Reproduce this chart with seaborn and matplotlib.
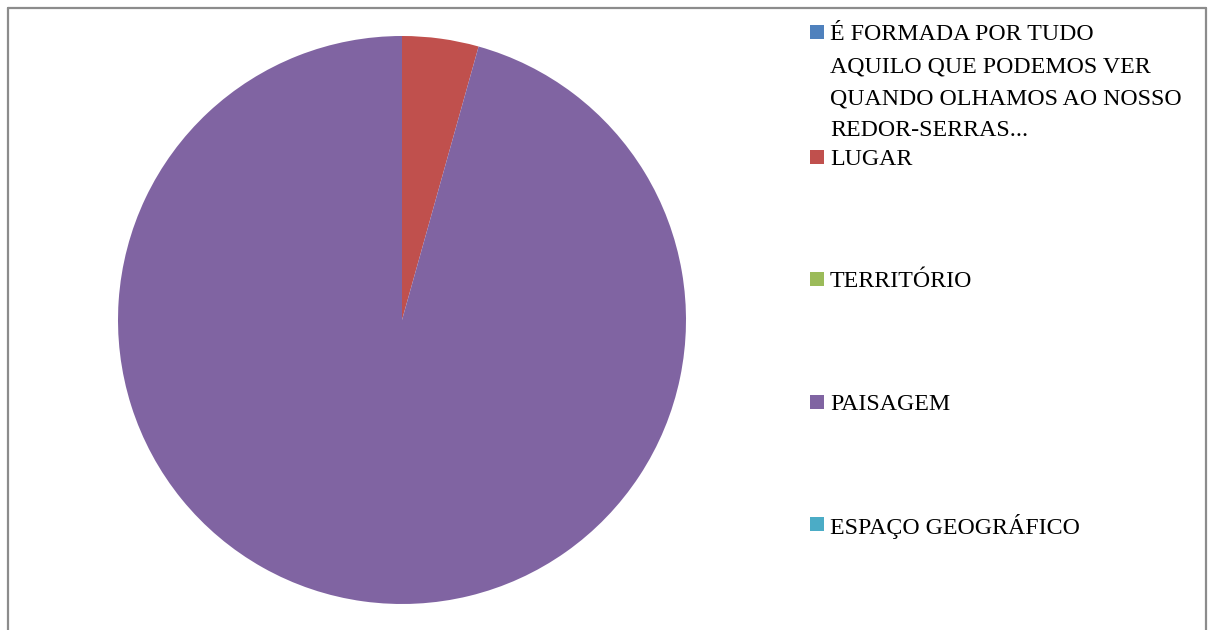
import matplotlib

matplotlib.use("Agg")
import matplotlib.pyplot as plt
from matplotlib.lines import Line2D
from matplotlib.patches import Rectangle
import seaborn as sns

sns.set_style("white")
plt.rcParams["font.family"] = ["Liberation Serif", "DejaVu Serif"]

# data
categories = [
    "É FORMADA POR TUDO\nAQUILO QUE PODEMOS VER\nQUANDO OLHAMOS AO NOSSO\nREDOR-SERRAS...",
    "LUGAR",
    "TERRITÓRIO",
    "PAISAGEM",
    "ESPAÇO GEOGRÁFICO",
]
values = [0, 1, 0, 22, 0]
colors = ["#4F81BD", "#C0504D", "#9BBB59", "#8064A2", "#4BACC6"]

W, H = 1214, 630
fig = plt.figure(figsize=(W / 100, H / 100), dpi=100)

# pie, centre (402, 320) px from top-left, radius 284 px
cx, cy, r = 402, 320, 284
ax = fig.add_axes([(cx - r) / W, (H - cy - r) / H, 2 * r / W, 2 * r / H])
ax.pie(values, colors=colors, startangle=90, counterclock=False,
       wedgeprops=dict(linewidth=0))
ax.set_xlim(-1, 1)
ax.set_ylim(-1, 1)
ax.axis("off")

# legend, drawn by hand to keep Excel-style spacing
entry_y = [32, 157, 279, 402, 524]  # px from top, centre of first text line
line_h = 32
for label, color, y in zip(categories, colors, entry_y):
    fig.patches.append(Rectangle((810 / W, 1 - (y + 7) / H), 14 / W, 14 / H,
                                 transform=fig.transFigure, facecolor=color,
                                 edgecolor="none"))
    for i, line in enumerate(label.split("\n")):
        fig.text(830 / W, 1 - (y + i * line_h) / H, line, fontsize=17.2,
                 va="center_baseline", ha="left", color="#000000")

# chart frame (bottom edge lies outside the picture)
frame = dict(color="#8C8C8C", linewidth=1.6, transform=fig.transFigure)
fig.add_artist(Line2D([8 / W, 8 / W], [0, 1 - 8 / H], **frame))
fig.add_artist(Line2D([8 / W, 1206 / W], [1 - 8 / H, 1 - 8 / H], **frame))
fig.add_artist(Line2D([1206 / W, 1206 / W], [0, 1 - 8 / H], **frame))

fig.savefig("out.png", dpi=100)
plt.close(fig)
